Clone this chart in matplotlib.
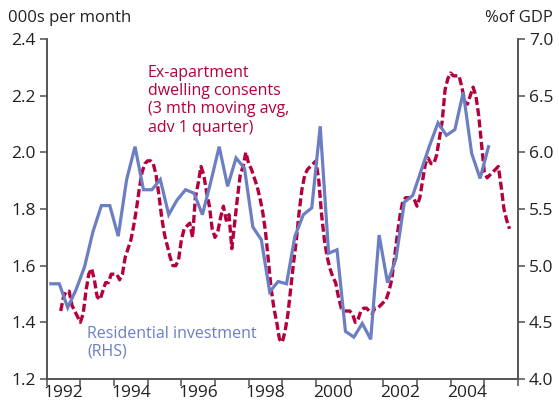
import numpy as np
import pandas as pd
import matplotlib
matplotlib.use("Agg")
import matplotlib.pyplot as plt

plt.rcParams['font.family'] = ['Open Sans', 'DejaVu Sans']

# ====== Data ======

# Residential investment, % of GDP (RHS), quarterly 1992Q1 - 2005Q1
invest_start = "1992Q1"
invest_pct = [4.84, 4.84, 4.63, 4.79, 4.99, 5.30, 5.53, 5.53, 5.26, 5.76,
              6.05, 5.67, 5.67, 5.76, 5.45, 5.58, 5.67, 5.64, 5.45, 5.74,
              6.05, 5.70, 5.95, 5.86, 5.34, 5.23, 4.77, 4.86, 4.84, 5.26,
              5.45, 5.51, 6.23, 5.11, 5.14, 4.42, 4.37, 4.49, 4.35, 5.27,
              4.85, 5.06, 5.56, 5.62, 5.84, 6.06, 6.26, 6.15, 6.20, 6.53,
              5.99, 5.77, 6.05]

# Ex-apartment dwelling consents, 000s per month (LHS), monthly from Jun 1992
consents_start = "1992-06"
consents = [1.44, 1.49, 1.51, 1.51, 1.46, 1.44, 1.42, 1.40, 1.43, 1.51,
            1.57, 1.59, 1.55, 1.49, 1.48, 1.51, 1.54, 1.54, 1.57, 1.57,
            1.57, 1.55, 1.57, 1.63, 1.66, 1.69, 1.74, 1.80, 1.87, 1.93,
            1.96, 1.97, 1.97, 1.96, 1.92, 1.85, 1.77, 1.71, 1.67, 1.63,
            1.60, 1.60, 1.62, 1.69, 1.73, 1.74, 1.75, 1.70, 1.84, 1.89,
            1.95, 1.92, 1.86, 1.81, 1.73, 1.70, 1.72, 1.77, 1.81, 1.76,
            1.78, 1.66, 1.75, 1.84, 1.92, 1.95, 2.00, 1.96, 1.94, 1.91,
            1.88, 1.84, 1.79, 1.72, 1.62, 1.52, 1.45, 1.40, 1.34, 1.33,
            1.37, 1.43, 1.52, 1.61, 1.69, 1.79, 1.87, 1.92, 1.94, 1.95,
            1.96, 1.97, 1.90, 1.78, 1.69, 1.63, 1.59, 1.56, 1.54, 1.49,
            1.45, 1.44, 1.44, 1.44, 1.43, 1.40, 1.41, 1.44, 1.45, 1.45,
            1.44, 1.43, 1.45, 1.45, 1.46, 1.47, 1.48, 1.51, 1.55, 1.63,
            1.71, 1.78, 1.83, 1.84, 1.84, 1.84, 1.835, 1.81, 1.84, 1.90,
            1.96, 1.98, 1.96, 1.96, 1.99, 2.05, 2.11, 2.22, 2.26, 2.28,
            2.27, 2.27, 2.27, 2.23, 2.18, 2.17, 2.20, 2.23, 2.20, 2.13,
            2.03, 1.93, 1.91, 1.92, 1.93, 1.94, 1.95, 1.88, 1.80, 1.76,
            1.73]

year_ticks = list(range(1992, 2007))
year_labels = [str(y) for y in range(1992, 2005, 2)]
left_ticks = [1.2, 1.4, 1.6, 1.8, 2.0, 2.2, 2.4]
right_ticks = [4.0, 4.5, 5.0, 5.5, 6.0, 6.5, 7.0]

# decimal-year positions
q = pd.period_range(invest_start, periods=len(invest_pct), freq="Q")
x_invest = q.year + (q.quarter - 1) / 4 + 0.125
m = pd.period_range(consents_start, periods=len(consents), freq="M")
x_consents = m.year + (m.month - 1) / 12

red = "#B4003F"
blue = "#6B7FC2"
grey = "#505050"

# ====== Plot ======

fig = plt.figure(figsize=(5.59, 4.08), dpi=100)
ax = fig.add_axes([0.0835, 0.0711, 0.8431, 0.8333])
ax2 = ax.twinx()

ax.plot(x_consents, consents, color=red, lw=2.4, dashes=(2.4, 1.0))
ax2.plot(x_invest, invest_pct, color=blue, lw=2.3, solid_joinstyle="miter")

ax.set_xlim(1992, 2006)
ax.set_ylim(1.2, 2.4)
ax2.set_ylim(4.0, 7.0)

ax.set_xticks(year_ticks)
ax.set_xticklabels([])
ax.set_xticks([y + 0.5 for y in range(1992, 2005, 2)], minor=True)
ax.set_xticklabels(year_labels, minor=True)
ax.tick_params(axis="x", which="minor", length=0, pad=4)
ax.tick_params(axis="x", which="major", length=5, width=1.1, color=grey)

ax.set_yticks(left_ticks)
ax.set_yticklabels([f"{v:.1f}" for v in left_ticks])
ax2.set_yticks(right_ticks)
ax2.set_yticklabels([f"{v:.1f}" for v in right_ticks])

for a in (ax, ax2):
    a.tick_params(axis="both", which="both", labelsize=12.5, labelcolor="#222222")
    a.tick_params(axis="y", length=5, width=1.1, color=grey, pad=3)
    a.spines["top"].set_visible(False)
    for s in ("left", "right", "bottom"):
        a.spines[s].set_color(grey)
        a.spines[s].set_linewidth(1.1)

fig.text(8 / 559, 1 - 18 / 408, "000s per month", fontsize=12, color="#222222",
         ha="left", va="center")
fig.text(553 / 559, 1 - 18 / 408, "%of GDP", fontsize=12, color="#222222",
         ha="right", va="center")

ax.text(1995.0, 2.31, "Ex-apartment\ndwelling consents\n(3 mth moving avg,\nadv 1 quarter)",
        color=red, fontsize=11.5, ha="left", va="top", linespacing=1.2)
ax2.text(1993.2, 4.47, "Residential investment\n(RHS)", color=blue, fontsize=11.5,
         ha="left", va="top", linespacing=1.15)

fig.savefig("out.png", dpi=100)
